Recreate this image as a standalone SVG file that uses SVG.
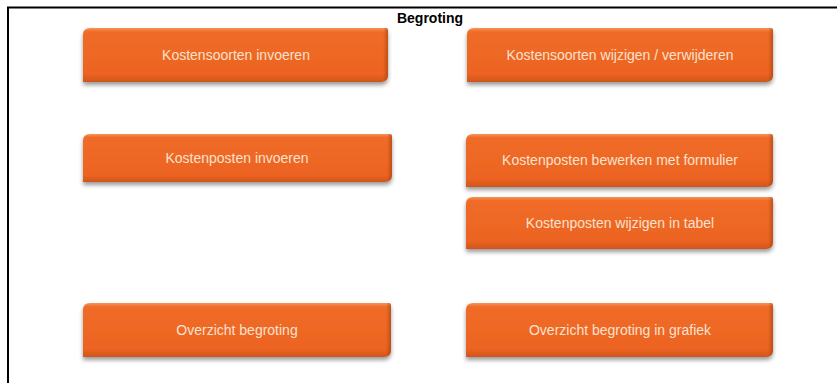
<svg xmlns="http://www.w3.org/2000/svg" width="837" height="383" viewBox="0 0 837 383">
<style>
.frame{fill:none;stroke:#000;stroke-width:2}
.title{font-family:"Liberation Sans",Arial,sans-serif;font-weight:bold;font-size:14px;fill:#000}
.body{fill:url(#gv);filter:url(#sh)}
.edge{fill:url(#gh)}
.lbl{font-family:"Liberation Sans",Arial,sans-serif;font-size:14px;fill:#FBE1D0;text-anchor:middle;dominant-baseline:middle}
</style>
<defs>
<linearGradient id="gv" x1="0" y1="0" x2="0" y2="1">
<stop offset="0" stop-color="#F6935A"/>
<stop offset="0.07" stop-color="#F06C28"/>
<stop offset="0.85" stop-color="#EC6321"/>
<stop offset="1" stop-color="#D0561C"/>
</linearGradient>
<linearGradient id="gh" x1="0" y1="0" x2="1" y2="0">
<stop offset="0" stop-color="#7A2A00" stop-opacity="0"/>
<stop offset="0.984" stop-color="#7A2A00" stop-opacity="0"/>
<stop offset="1" stop-color="#7A2A00" stop-opacity="0.4"/>
</linearGradient>
<filter id="sh" x="-5%" y="-20%" width="110%" height="150%">
<feDropShadow dx="0" dy="3" stdDeviation="2" flood-color="#000" flood-opacity="0.4"/>
</filter>
</defs>
<path class="frame" d="M8,383 V7.5 H837"/>
<text class="title" x="430" y="23" text-anchor="middle">Begroting</text>
<g id="n1">
<path class="body" d="M90,28 H386 Q388,28 388,30 V75 Q388,82 381,82 H83 V35 Q83,28 90,28 Z"/>
<path class="edge" d="M90,28 H386 Q388,28 388,30 V75 Q388,82 381,82 H83 V35 Q83,28 90,28 Z"/>
<text class="lbl" x="236" y="56">Kostensoorten invoeren</text>
</g>
<g id="n2">
<path class="body" d="M474,28 H771 Q773,28 773,30 V75 Q773,82 766,82 H467 V35 Q467,28 474,28 Z"/>
<path class="edge" d="M474,28 H771 Q773,28 773,30 V75 Q773,82 766,82 H467 V35 Q467,28 474,28 Z"/>
<text class="lbl" x="620" y="56">Kostensoorten wijzigen / verwijderen</text>
</g>
<g id="n3">
<path class="body" d="M90,134 H390 Q392,134 392,136 V175 Q392,182 385,182 H83 V141 Q83,134 90,134 Z"/>
<path class="edge" d="M90,134 H390 Q392,134 392,136 V175 Q392,182 385,182 H83 V141 Q83,134 90,134 Z"/>
<text class="lbl" x="237" y="159">Kostenposten invoeren</text>
</g>
<g id="n4">
<path class="body" d="M473,134 H771 Q773,134 773,136 V180 Q773,187 766,187 H466 V141 Q466,134 473,134 Z"/>
<path class="edge" d="M473,134 H771 Q773,134 773,136 V180 Q773,187 766,187 H466 V141 Q466,134 473,134 Z"/>
<text class="lbl" x="620" y="161">Kostenposten bewerken met formulier</text>
</g>
<g id="n5">
<path class="body" d="M473,197 H771 Q773,197 773,199 V242 Q773,249 766,249 H466 V204 Q466,197 473,197 Z"/>
<path class="edge" d="M473,197 H771 Q773,197 773,199 V242 Q773,249 766,249 H466 V204 Q466,197 473,197 Z"/>
<text class="lbl" x="620" y="224">Kostenposten wijzigen in tabel</text>
</g>
<g id="n6">
<path class="body" d="M90,303 H389 Q391,303 391,305 V350 Q391,357 384,357 H83 V310 Q83,303 90,303 Z"/>
<path class="edge" d="M90,303 H389 Q391,303 391,305 V350 Q391,357 384,357 H83 V310 Q83,303 90,303 Z"/>
<text class="lbl" x="237" y="331">Overzicht begroting</text>
</g>
<g id="n7">
<path class="body" d="M473,303 H771 Q773,303 773,305 V350 Q773,357 766,357 H466 V310 Q466,303 473,303 Z"/>
<path class="edge" d="M473,303 H771 Q773,303 773,305 V350 Q773,357 766,357 H466 V310 Q466,303 473,303 Z"/>
<text class="lbl" x="620" y="331">Overzicht begroting in grafiek</text>
</g>
<g id="connectors"/>
</svg>
